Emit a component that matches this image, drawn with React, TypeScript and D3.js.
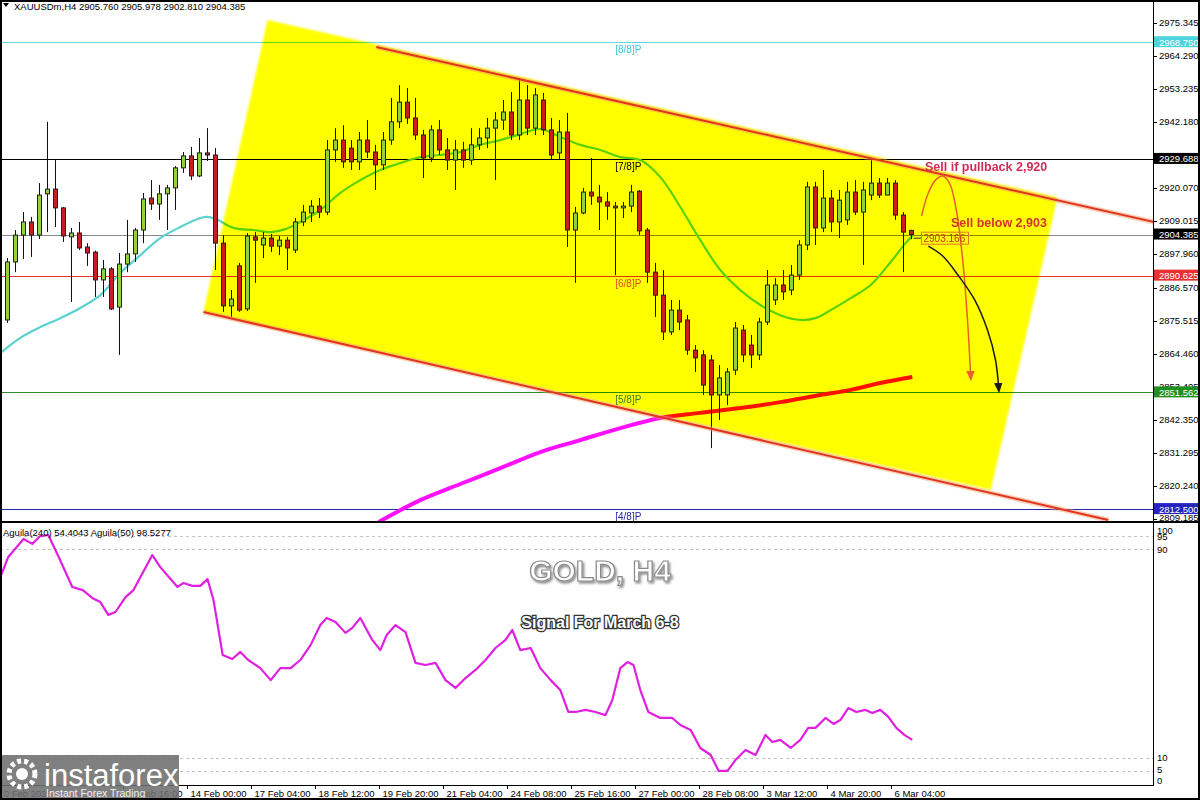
import React from "react";
import * as d3 from "d3";

// ---------- DATA ----------
const headerOHLC = [2905.76, 2905.978, 2902.81, 2904.385];

const openP = [
  2875.8, 2895.2, 2904.2, 2908.6, 2904.2, 2918.0, 2919.6, 2913.3, 2903.6, 2904.9,
  2900.2, 2898.5, 2889.2, 2892.9, 2880.1, 2894.5, 2897.9, 2905.9, 2916.6, 2914.6,
  2918.0, 2920.0, 2926.7, 2930.7, 2924.0, 2931.7, 2931.0, 2901.5, 2880.5, 2893.9,
  2879.5, 2903.6, 2900.9, 2903.2, 2900.5, 2902.5, 2899.2, 2908.6, 2911.6, 2913.9,
  2911.9, 2932.7, 2936.0, 2933.3, 2928.7, 2936.0, 2932.0, 2927.7, 2936.0, 2942.1,
  2948.7, 2943.4, 2937.7, 2930.0, 2939.4, 2932.7, 2929.3, 2932.7, 2929.3, 2934.4,
  2936.7, 2940.0, 2942.7, 2945.4, 2937.7, 2949.4, 2940.0, 2949.4, 2939.4, 2931.7,
  2938.7, 2905.9, 2911.6, 2918.6, 2916.9, 2915.3, 2913.9, 2913.3, 2913.9, 2918.9,
  2905.9, 2891.8, 2884.1, 2871.8, 2879.1, 2875.8, 2865.7, 2864.1, 2862.4, 2850.7,
  2850.7, 2859.0, 2872.4, 2867.4, 2864.1, 2875.1, 2882.5, 2887.5, 2885.8, 2890.8,
  2900.9, 2920.3, 2906.6, 2916.6, 2908.6, 2909.3, 2918.6, 2911.9, 2917.6, 2921.6,
  2917.6, 2921.6, 2910.9, 2905.76,
];
const highP = [
  2896.5, 2905.9, 2911.9, 2910.3, 2921.6, 2942.1, 2929.3, 2913.6, 2906.6, 2908.6,
  2901.5, 2899.0, 2895.9, 2893.5, 2898.2, 2909.3, 2906.6, 2918.3, 2922.6, 2921.0,
  2921.0, 2927.3, 2932.0, 2933.7, 2936.7, 2940.0, 2933.3, 2904.2, 2885.8, 2894.9,
  2904.9, 2905.2, 2905.2, 2904.6, 2903.9, 2903.6, 2909.9, 2914.3, 2915.9, 2916.6,
  2936.0, 2940.0, 2941.0, 2936.0, 2938.7, 2942.7, 2934.4, 2938.7, 2950.1, 2954.4,
  2953.4, 2950.1, 2939.4, 2941.0, 2942.7, 2936.7, 2936.0, 2935.4, 2940.0, 2940.0,
  2943.4, 2945.4, 2949.4, 2952.1, 2956.8, 2954.4, 2953.4, 2951.8, 2943.4, 2942.7,
  2945.1, 2913.6, 2920.0, 2930.0, 2921.0, 2918.6, 2915.3, 2915.3, 2921.0, 2919.3,
  2906.6, 2894.9, 2892.5, 2882.5, 2882.5, 2877.5, 2867.4, 2865.7, 2864.1, 2860.7,
  2859.7, 2875.1, 2874.1, 2870.8, 2876.5, 2892.5, 2889.8, 2892.5, 2894.2, 2902.5,
  2922.0, 2922.0, 2926.0, 2919.3, 2919.3, 2922.0, 2922.6, 2922.0, 2930.0, 2923.3,
  2923.3, 2922.6, 2911.9, 2905.978,
];
const lowP = [
  2874.8, 2891.8, 2896.2, 2896.9, 2902.9, 2905.2, 2906.9, 2901.9, 2881.8, 2899.2,
  2893.9, 2883.5, 2883.5, 2879.1, 2864.1, 2891.8, 2895.2, 2901.5, 2912.6, 2909.3,
  2905.9, 2912.6, 2925.0, 2922.6, 2923.6, 2929.0, 2892.5, 2878.5, 2876.8, 2878.5,
  2878.8, 2888.2, 2896.5, 2898.5, 2897.5, 2892.5, 2898.2, 2907.2, 2908.6, 2909.9,
  2910.9, 2928.7, 2926.7, 2926.0, 2926.0, 2930.0, 2919.3, 2926.0, 2934.4, 2940.0,
  2941.4, 2936.0, 2923.3, 2928.7, 2931.0, 2926.0, 2919.3, 2926.7, 2927.7, 2932.7,
  2933.3, 2922.6, 2939.4, 2936.0, 2936.0, 2937.7, 2937.7, 2937.7, 2929.3, 2929.3,
  2900.2, 2888.2, 2911.2, 2914.3, 2905.9, 2909.3, 2890.8, 2909.9, 2911.9, 2904.2,
  2888.2, 2876.8, 2869.1, 2870.8, 2872.4, 2864.1, 2858.4, 2850.7, 2832.9, 2842.3,
  2847.3, 2857.4, 2861.7, 2859.7, 2862.4, 2874.1, 2880.8, 2882.5, 2884.1, 2889.2,
  2899.2, 2900.9, 2905.2, 2905.2, 2903.2, 2907.6, 2910.9, 2894.2, 2915.9, 2916.6,
  2917.6, 2909.3, 2891.8, 2902.81,
];
const closeP = [
  2895.2, 2904.2, 2908.6, 2904.2, 2917.6, 2919.6, 2913.3, 2903.9, 2904.9, 2899.9,
  2898.2, 2889.2, 2892.9, 2879.5, 2894.5, 2897.9, 2905.9, 2916.3, 2914.6, 2918.0,
  2920.0, 2926.7, 2930.7, 2924.0, 2931.7, 2931.0, 2901.5, 2880.5, 2882.8, 2879.1,
  2903.9, 2902.5, 2903.2, 2900.5, 2902.5, 2899.9, 2908.6, 2911.9, 2913.9, 2911.9,
  2932.7, 2936.0, 2928.7, 2928.7, 2936.0, 2932.0, 2927.7, 2936.0, 2942.1, 2948.7,
  2943.4, 2937.7, 2930.0, 2939.4, 2932.7, 2929.3, 2932.7, 2929.3, 2934.4, 2936.7,
  2940.0, 2942.7, 2945.4, 2937.7, 2949.4, 2940.0, 2951.1, 2939.4, 2931.0, 2938.7,
  2905.9, 2911.6, 2918.6, 2917.3, 2915.3, 2913.9, 2913.3, 2913.9, 2918.6, 2905.6,
  2891.8, 2884.1, 2871.8, 2879.1, 2875.1, 2865.7, 2863.1, 2854.0, 2850.7, 2856.4,
  2858.4, 2873.1, 2864.1, 2864.1, 2875.1, 2887.5, 2887.5, 2885.2, 2890.8, 2900.9,
  2920.3, 2906.6, 2916.6, 2908.6, 2915.9, 2918.6, 2911.9, 2919.3, 2921.6, 2917.6,
  2921.6, 2910.9, 2905.2, 2904.385,
];

// fast moving average
const fastMaBar = [-0.9, 1.6, 4.1, 6.6, 9.1, 11.6, 14.1, 16.6, 19.1, 21.6, 24.1, 25, 26.25, 28.25, 30.75, 32.9, 34.75, 36.6, 39.1, 41.6, 44.1, 46.6, 49.1, 51.6, 54.1, 56.6, 59.1, 61.6, 64.1, 66.6, 69.1, 71.6, 74.1, 76.6, 79.1, 81.6, 84.1, 86.6, 89.1, 91.6, 94.1, 96.6, 99.1, 101, 102.9, 105.4, 107.9, 110.4, 112.25, 113.1];
const fastMaVal = [2864.7, 2869.8, 2873.4, 2876.4, 2879.8, 2884.1, 2891.5, 2897.5, 2903.2, 2906.9, 2909.9, 2910.3, 2909.3, 2906.6, 2905.9, 2905.2, 2906.2, 2908.6, 2912.6, 2918.3, 2922.6, 2926.0, 2928.3, 2930.3, 2931.0, 2932.0, 2934.4, 2936.0, 2938.0, 2939.7, 2937.0, 2934.4, 2932.7, 2930.3, 2929.3, 2923.6, 2913.6, 2902.5, 2892.5, 2885.8, 2880.8, 2877.4, 2875.8, 2876.4, 2879.1, 2883.1, 2887.5, 2895.2, 2901.5, 2903.9];

// slow moving average
const slowMaBar = [46.4, 51.6, 56.6, 61.6, 66.6, 71.6, 76.6, 81.6, 86.6, 91.6, 96.6, 101.6, 105.4, 109.1, 113.1];
const slowMaVal = [2808.2, 2815.5, 2820.9, 2826.2, 2831.6, 2835.6, 2839.6, 2843.0, 2844.7, 2846.3, 2848.3, 2850.7, 2852.4, 2854.7, 2856.7];

// Aguila oscillator
const aguilaBar = [-0.9, 0.1, 2, 3.1, 4.1, 5.1, 6.4, 8.1, 9.4, 10.6, 11.6, 12.6, 13.5, 14.75, 15.75, 18.1, 19.1, 21.25, 22, 23.1, 24.1, 25, 25.75, 26.9, 28.1, 29.1, 30.1, 31.6, 32.9, 34.1, 35.4, 36.6, 37.9, 39.1, 39.9, 41, 42.25, 43.1, 44.1, 45.6, 46.6, 47.4, 48.5, 49.75, 51, 52.25, 53.5, 54.75, 56, 57.25, 58.5, 59.75, 61, 62.25, 63.1, 64.1, 65.4, 66.6, 67.9, 69.1, 70.1, 71, 72.25, 73.5, 74.75, 75.6, 76.6, 77.5, 78.25, 79.1, 80.1, 81.6, 83.1, 84.1, 85.4, 86.6, 87.9, 88.9, 90, 91, 92.25, 93.5, 94.75, 95.6, 96.6, 97.9, 99.1, 100.1, 101, 102.25, 103.25, 104.1, 105.1, 106.1, 107.25, 108.1, 109.1, 110.1, 111.1, 112.1, 113.1];
const aguilaVal = [79.3, 87.0, 93.9, 92.0, 95.0, 95.4, 87.0, 75.5, 74.3, 71.3, 69.7, 64.8, 65.9, 71.6, 74.3, 87.7, 83.1, 75.5, 77.0, 75.9, 75.9, 78.5, 70.5, 49.4, 47.9, 50.6, 47.5, 44.4, 39.8, 44.4, 44.4, 47.5, 53.3, 60.9, 63.6, 62.1, 57.9, 59.8, 63.6, 55.2, 51.3, 57.1, 60.9, 58.2, 46.4, 45.6, 46.4, 39.8, 36.8, 40.6, 43.7, 47.5, 52.1, 55.2, 59.0, 51.3, 52.1, 44.4, 39.8, 36.0, 27.6, 27.6, 28.4, 27.6, 26.4, 32.2, 44.4, 46.7, 45.6, 36.0, 27.6, 25.3, 25.3, 22.6, 20.7, 13.8, 11.1, 5.0, 5.0, 9.2, 13.0, 11.1, 18.8, 16.1, 16.9, 13.8, 16.9, 21.5, 21.5, 25.3, 23.0, 24.5, 29.1, 27.6, 28.4, 27.2, 28.4, 25.7, 21.5, 18.8, 16.9];

// drawn objects (bar index, price)
const channelUpperBar = [46.1, 143.25];
const channelUpperVal = [2967.15, 2908.6];
const channelLowerBar = [24.5, 137.6];
const channelLowerVal = [2878.45, 2808.84];
const zoneBar = [32.5, 131.25, 122.9, 24.5];
const zoneVal = [2976.2, 2916.9, 2818.9, 2878.45];
const pullbackArrowBar = [114.25, 115.1, 116, 116.9, 117.75, 118.6, 119.4, 120, 120.4];
const pullbackArrowVal = [2910.6, 2918.3, 2922.6, 2924.0, 2921.6, 2912.6, 2895.9, 2875.8, 2857.0];
const breakArrowBar = [115.1, 116.9, 118.9, 120.9, 122.5, 123.5, 123.9];
const breakArrowVal = [2900.5, 2897.2, 2890.5, 2882.5, 2872.4, 2862.4, 2853.0];

const levelPrices = [2968.75, 2929.688, 2890.625, 2851.562, 2812.5];
const levelNames = ["[8/8]P", "[7/8]P", "[6/8]P", "[5/8]P", "[4/8]P"];
const levelLabelBar = 77.6;
const currentPrice = 2904.385;
const priceMarkValue = 2903.166;

const priceTicks = [2975.345, 2964.29, 2953.235, 2942.18, 2920.07, 2909.015, 2897.96, 2886.57, 2875.515, 2864.46, 2853.405, 2842.35, 2831.295, 2820.24, 2809.185];
const lowerTicks = [100, 95, 90, 10, 5, 0];
const lowerDashLevels = [95, 90, 10, 5];

const timeLabels = ["10 Feb 2025", "12 Feb 16:00", "14 Feb 00:00", "17 Feb 04:00", "18 Feb 12:00", "19 Feb 20:00", "21 Feb 04:00", "24 Feb 08:00", "25 Feb 16:00", "27 Feb 00:00", "28 Feb 08:00", "3 Mar 12:00", "4 Mar 20:00", "6 Mar 04:00"];
const timeLabelBars = [-1, 15, 23, 31, 39, 47, 55, 63, 71, 79, 87, 95, 103, 111];

const aguilaLegend = "Aguila(240) 54.4043  Aguila(50) 98.5277";

// ---------- STYLE ----------
const FONT = "'Liberation Sans', Arial, sans-serif";
const levelStyle = [
  { line: "#5fd8e0", text: "#3ec8d8", box: "#4ed2dc" },
  { line: "#000000", text: "#000000", box: "#000000" },
  { line: "#e83030", text: "#e8482a", box: "#e83030" },
  { line: "#2e8b2e", text: "#3a7a2a", box: "#1f8f1f" },
  { line: "#2626a8", text: "#2626a8", box: "#2424c0" },
];

export default function App() {
  const AX = 1153;
  const MAIN_BOTTOM = 521;
  const LOW_TOP = 524;
  const LOW_BOTTOM = 785;

  const x = d3.scaleLinear().domain([0, 113]).range([7.5, 911.5]);
  const y = d3.scaleLinear().domain([2809.185, 2975.345]).range([519, 22.5]);
  const yl = d3.scaleLinear().domain([0, 100]).range([784, 523]);

  const lineP = d3
    .line<[number, number]>()
    .x((d) => x(d[0]))
    .y((d) => y(d[1]))
    .curve(d3.curveCatmullRom.alpha(0.5));
  const lineStraight = d3
    .line<[number, number]>()
    .x((d) => x(d[0]))
    .y((d) => y(d[1]));
  const lineL = d3
    .line<[number, number]>()
    .x((d) => x(d[0]))
    .y((d) => yl(d[1]));

  const zip = (a: number[], b: number[]) => a.map((v, i) => [v, b[i]] as [number, number]);

  const fastPath = lineP(zip(fastMaBar, fastMaVal)) || "";
  const slowPath = lineP(zip(slowMaBar, slowMaVal)) || "";
  const aguilaPath = lineL(zip(aguilaBar, aguilaVal)) || "";
  const zonePath = (lineStraight(zip(zoneBar, zoneVal)) || "") + "Z";
  const upperPath = lineStraight(zip(channelUpperBar, channelUpperVal)) || "";
  const lowerPath = lineStraight(zip(channelLowerBar, channelLowerVal)) || "";
  const pullPath = lineP(zip(pullbackArrowBar, pullbackArrowVal)) || "";
  const breakPath = lineP(zip(breakArrowBar, breakArrowVal)) || "";

  const fmt = d3.format(".3f");
  const headerText = "XAUUSDm,H4  " + headerOHLC.map(fmt).join(" ");

  const candles = openP.map((o, i) => ({
    i,
    o,
    h: highP[i],
    l: lowP[i],
    c: closeP[i],
  }));

  const boxH = 11;

  return (
    <div style={{ position: "absolute", left: 0, top: 0 }}>
      <svg width={1200} height={800} style={{ display: "block", fontFamily: FONT }}>
        <defs>
          <clipPath id="mainClip">
            <rect x={2} y={2} width={AX - 2} height={MAIN_BOTTOM - 2} />
          </clipPath>
          <clipPath id="lowClip">
            <rect x={2} y={LOW_TOP} width={AX - 2} height={LOW_BOTTOM - LOW_TOP} />
          </clipPath>
          <marker id="arrOrange" viewBox="0 0 10 10" refX="5" refY="5" markerWidth="7" markerHeight="7" orient="auto">
            <path d="M0,1 L10,5 L0,9 Z" fill="#e8602a" />
          </marker>
          <marker id="arrBlack" viewBox="0 0 10 10" refX="5" refY="5" markerWidth="7" markerHeight="7" orient="auto">
            <path d="M0,1 L10,5 L0,9 Z" fill="#1a1a1a" />
          </marker>
          <filter id="titleShadow" x="-20%" y="-30%" width="140%" height="160%">
            <feDropShadow dx="1.5" dy="2" stdDeviation="1.2" floodColor="#000" floodOpacity="0.45" />
          </filter>
          <filter id="zoneBlur" x="-5%" y="-5%" width="110%" height="110%">
            <feGaussianBlur stdDeviation="0.8" />
          </filter>
        </defs>

        <rect x={0} y={0} width={1200} height={800} fill="#ffffff" />

        {/* ---------- MAIN PANEL ---------- */}
        <g clipPath="url(#mainClip)">
          {levelPrices.map((p, k) => (
            <line key={"lv" + k} x1={0} x2={AX} y1={Math.round(y(p)) + 0.5} y2={Math.round(y(p)) + 0.5} stroke={levelStyle[k].line} strokeWidth={1} />
          ))}
          <line x1={0} x2={AX} y1={Math.round(y(currentPrice)) + 0.5} y2={Math.round(y(currentPrice)) + 0.5} stroke="#8a8a8a" strokeWidth={1} />

          <path d={fastPath} fill="none" stroke="#5ad2cf" strokeWidth={2.2} />
          <path d={slowPath} fill="none" stroke="#ff10ff" strokeWidth={4} />

          {/* highlighted zone */}
          <path d={zonePath} fill="#ffff00" style={{ mixBlendMode: "multiply" }} filter="url(#zoneBlur)" />

          {/* level labels */}
          {levelPrices.map((p, k) => (
            <text key={"lt" + k} x={x(levelLabelBar)} y={y(p) + 11} fontSize={10} textAnchor="middle" fill={levelStyle[k].text}>
              {levelNames[k]}
            </text>
          ))}

          {/* candles */}
          {candles.map((d) => {
            const cx = x(d.i);
            const up = d.c >= d.o;
            const top = y(Math.max(d.o, d.c));
            const bot = y(Math.min(d.o, d.c));
            const bh = Math.max(1, bot - top);
            return (
              <g key={"c" + d.i}>
                <line x1={cx} x2={cx} y1={y(d.h)} y2={y(d.l)} stroke="#111" strokeWidth={1} />
                <rect x={cx - 2} y={top} width={4} height={bh} fill={up ? "#8fd23c" : "#c81e1e"} stroke="#222" strokeWidth={1} />
              </g>
            );
          })}

          {/* channel lines */}
          <path d={upperPath} stroke="#f39a62" strokeOpacity={0.45} strokeWidth={5} fill="none" />
          <path d={upperPath} stroke="#e0351e" strokeWidth={2} fill="none" />
          <path d={lowerPath} stroke="#f39a62" strokeOpacity={0.45} strokeWidth={5} fill="none" />
          <path d={lowerPath} stroke="#e0351e" strokeWidth={2} fill="none" />

          {/* arrows */}
          <path d={pullPath} fill="none" stroke="#e8602a" strokeWidth={1.5} markerEnd="url(#arrOrange)" />
          <path d={breakPath} fill="none" stroke="#1a1a1a" strokeWidth={1.5} markerEnd="url(#arrBlack)" />

          {/* price mark */}
          <line x1={x(113) + 2} x2={x(113) + 10} y1={y(priceMarkValue)} y2={y(priceMarkValue)} stroke="#333" strokeWidth={1} />
          <rect x={x(113) + 10} y={y(priceMarkValue) - 6} width={47} height={12} fill="none" stroke="#e07828" strokeWidth={1} />
          <text x={x(113) + 12} y={y(priceMarkValue) + 4} fontSize={10} fill="#c8321e">
            {fmt(priceMarkValue)}
          </text>

          {/* annotations */}
          <text x={925} y={171} fontSize={12.5} fontWeight="bold" fill="#d42c5a">
            Sell if pullback 2,920
          </text>
          <text x={951} y={227} fontSize={12.5} fontWeight="bold" fill="#d0362a">
            Sell below 2,903
          </text>
        </g>

        {/* header */}
        <path d="M3,3 L9,3 L6,7 Z" fill="#000" />
        <text x={14} y={9.5} fontSize={9.5} fill="#000">
          {headerText}
        </text>

        {/* ---------- PRICE AXIS ---------- */}
        <line x1={AX + 0.5} x2={AX + 0.5} y1={0} y2={LOW_BOTTOM} stroke="#000" strokeWidth={1} />
        {priceTicks.map((p, k) => (
          <g key={"pt" + k}>
            <line x1={AX} x2={AX + 4} y1={Math.round(y(p)) + 0.5} y2={Math.round(y(p)) + 0.5} stroke="#000" />
            <text x={AX + 6} y={Math.min(y(p) + 3.5, 520.5)} fontSize={9.5} fill="#000">
              {fmt(p)}
            </text>
          </g>
        ))}
        {levelPrices.map((p, k) => (
          <g key={"pb" + k}>
            <rect x={AX + 1} y={y(p) - boxH / 2 - 0.5} width={46} height={boxH} fill={levelStyle[k].box} />
            <text x={AX + 6} y={y(p) + 3.5} fontSize={9.5} fill="#fff">
              {fmt(p)}
            </text>
          </g>
        ))}
        <rect x={AX + 1} y={y(currentPrice) - boxH / 2 - 0.5} width={46} height={boxH} fill="#000" />
        <text x={AX + 6} y={y(currentPrice) + 3.5} fontSize={9.5} fill="#fff">
          {fmt(currentPrice)}
        </text>

        {/* panel separator */}
        <rect x={0} y={MAIN_BOTTOM} width={1200} height={2} fill="#000" />

        {/* ---------- LOWER PANEL ---------- */}
        <g clipPath="url(#lowClip)">
          {lowerDashLevels.map((v) => (
            <line key={"dl" + v} x1={0} x2={AX} y1={Math.round(yl(v)) + 0.5} y2={Math.round(yl(v)) + 0.5} stroke="#c4c4c4" strokeDasharray="3,3" />
          ))}
          <path d={aguilaPath} fill="none" stroke="#e020e0" strokeWidth={2.2} strokeLinejoin="round" />
        </g>
        <text x={3} y={536} fontSize={9.5} fill="#000">
          {aguilaLegend}
        </text>
        <line x1={0} x2={AX + 1} y1={LOW_BOTTOM + 0.5} y2={LOW_BOTTOM + 0.5} stroke="#000" />
        {lowerTicks.map((v) => (
          <text key={"lt" + v} x={AX + 4} y={Math.max(530, Math.min(780, v === 5 ? yl(v) - 1.5 : yl(v))) + 3.5} fontSize={9.5} fill="#000">
            {v}
          </text>
        ))}

        <text x={600} y={581} fontSize={30} fontWeight="bold" textAnchor="middle" fill="#ffffff" stroke="#8a8a8a" strokeWidth={1.2} filter="url(#titleShadow)">
          GOLD, H4
        </text>
        <text x={600} y={628} fontSize={16} fontWeight="bold" textAnchor="middle" fill="#ffffff" stroke="#333" strokeWidth={2.6} style={{ paintOrder: "stroke" }}>
          Signal For March 6-8
        </text>

        {/* ---------- TIME AXIS ---------- */}
        {timeLabels.map((t, k) => {
          const tx = x(timeLabelBars[k]) - 4;
          return (
            <g key={"tl" + k}>
              <line x1={tx} x2={tx} y1={LOW_BOTTOM} y2={LOW_BOTTOM + 4} stroke="#000" />
              <text x={tx + 3} y={797} fontSize={9.5} fill="#000">
                {t}
              </text>
            </g>
          );
        })}

        {/* logo */}
        <g>
          <rect x={0} y={755} width={179} height={45} fill="#6e6e6e" opacity={0.88} />
          <circle cx={22} cy={774} r={13} fill="none" stroke="#fff" strokeWidth={5} strokeDasharray="4,3" />
          <circle cx={22} cy={774} r={6} fill="#fff" />
          <text x={44} y={786} fontSize={31} fill="#ffffff">
            instaforex
          </text>
          <text x={46} y={797} fontSize={10.5} fill="#f0f0f0">
            Instant Forex Trading
          </text>
        </g>

        {/* frame */}
        <rect x={1} y={1} width={1198} height={798} fill="none" stroke="#000" strokeWidth={2} />
      </svg>
    </div>
  );
}
